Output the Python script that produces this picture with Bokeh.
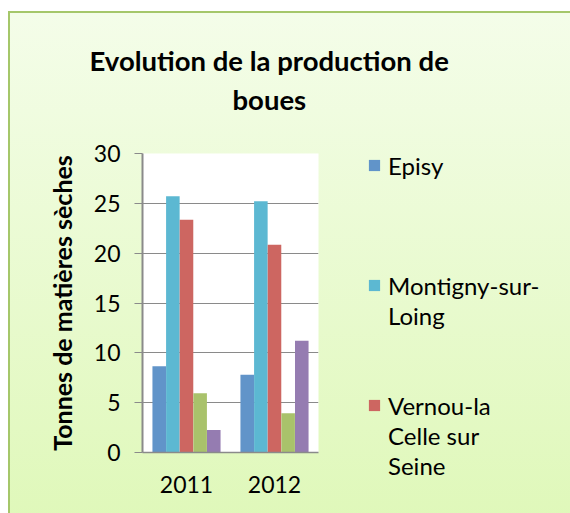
from bokeh.plotting import figure
from bokeh.models import ColumnDataSource, FactorRange, Legend, LegendItem, Title, Range1d, FixedTicker
from bokeh.transform import dodge
from bokeh.embed import file_html
from bokeh.resources import INLINE

years = ["2011", "2012"]
episy = [8.65, 7.8]
montigny = [25.7, 25.2]
vernou = [23.35, 20.85]
serie4 = [5.95, 3.95]
serie5 = [2.25, 11.2]
# legend rows: (text, series index or None for a continuation / empty row)
legend_rows = [("Episy", 0), ("\u00a0", None), ("\u00a0", None), ("\u00a0", None),
               ("Montigny-sur-", 1), ("Loing", None), ("\u00a0", None), ("\u00a0", None),
               ("Vernou-la", 2), ("Celle sur", None), ("Seine", None)]
y_ticks = [0, 5, 10, 15, 20, 25, 30]
title_lines = ["Evolution de la production de", "boues"]
y_label = "Tonnes de matières sèches"

colors = ["#6194C9", "#5CB8D2", "#CD6661", "#A9C26B", "#957CB1"]
offsets = [-0.31, -0.155, 0.0, 0.155, 0.31]
cols = ["episy", "montigny", "vernou", "serie4", "serie5"]

src = ColumnDataSource(dict(year=years, episy=episy, montigny=montigny, vernou=vernou,
                            serie4=serie4, serie5=serie5))

p = figure(frame_width=176, frame_height=299, x_range=FactorRange(*years), y_range=Range1d(0, 30),
           output_backend="svg", toolbar_location=None,
           min_border_left=142, min_border_right=252, min_border_top=153, min_border_bottom=61)

p.styles = {"background": "linear-gradient(#A5C76A,#A5C76A) 8px 11px / 100% 2px no-repeat, "
                          "linear-gradient(#A5C76A,#A5C76A) 8px 11px / 2px 100% no-repeat, "
                          "linear-gradient(to bottom, #F4FDE9, #DFF8B9) 10px 13px / 100% 100% no-repeat, #ffffff"}
p.border_fill_alpha = 0
p.background_fill_color = "white"
p.outline_line_color = None

renderers = []
for c, off, col in zip(cols, offsets, colors):
    r = p.vbar(x=dodge("year", off, range=p.x_range), top=c, width=0.154, source=src,
               fill_color=col, line_color=None)
    renderers.append(r)

# empty, transparent renderer used only for the text-only legend rows
blank = p.vbar(x=[], top=[], width=0.1, fill_alpha=0, line_alpha=0)

p.xgrid.grid_line_color = None
p.ygrid.grid_line_color = "#8A8A8A"
p.ygrid.grid_line_width = 1.2

ya = p.yaxis[0]
ya.ticker = FixedTicker(ticks=y_ticks)
ya.axis_line_color = "#8A8A8A"
ya.axis_line_width = 2
ya.major_tick_out = 8
ya.major_tick_in = 0
ya.major_tick_line_color = "#8A8A8A"
ya.major_tick_line_width = 1.2
ya.minor_tick_line_color = None
ya.major_label_text_font = "Lato"
ya.major_label_text_font_size = "23px"
ya.major_label_text_color = "black"
ya.major_label_standoff = 14
ya.axis_label = y_label
ya.axis_label_text_font = "Lato"
ya.axis_label_text_font_style = "bold"
ya.axis_label_text_font_size = "25px"
ya.axis_label_text_color = "black"
ya.axis_label_standoff = 14

xa = p.xaxis[0]
xa.axis_line_color = "#8A8A8A"
xa.axis_line_width = 1.5
xa.major_tick_out = 0
xa.major_tick_in = 0
xa.major_tick_line_color = None
xa.major_label_text_font = "Lato"
xa.major_label_text_font_size = "23px"
xa.major_label_text_color = "black"
xa.major_label_standoff = 23

p.add_layout(Title(text=title_lines[1], align="left", offset=90, standoff=76,
                   text_font="Lato", text_font_style="bold", text_font_size="27.5px",
                   text_color="black"), "above")
p.add_layout(Title(text=title_lines[0], align="left", offset=-53, standoff=-68,
                   text_font="Lato", text_font_style="bold", text_font_size="27.5px",
                   text_color="black"), "above")

items = [LegendItem(label=txt, renderers=[renderers[i] if i is not None else blank])
         for txt, i in legend_rows]
legend = Legend(items=items,
                location=(49, -28), glyph_width=14, glyph_height=14, label_standoff=7,
                label_height=30,
                label_text_font="Lato", label_text_font_size="24px", label_text_color="black",
                spacing=0, padding=0, margin=0, background_fill_alpha=0, border_line_alpha=0)
p.add_layout(legend, "right")

open("out.html", "w").write(file_html(p, INLINE))
